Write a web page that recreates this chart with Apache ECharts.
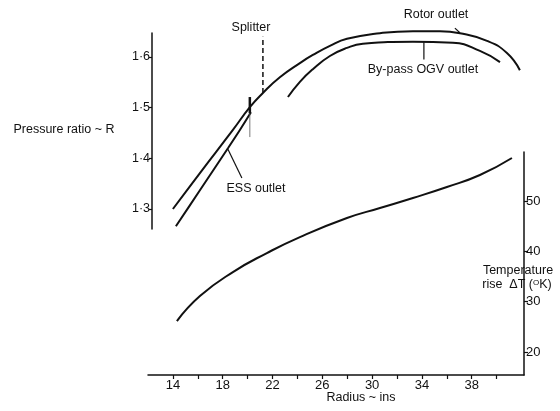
<!DOCTYPE html>
<html><head><meta charset="utf-8">
<script src="https://cdn.jsdelivr.net/npm/echarts@6/dist/echarts.min.js"></script>
<style>html,body{margin:0;padding:0;background:#fff}#c{width:560px;height:411px}</style>
</head><body><div id="c"></div>
<script>
// ---- data ----
const radiusTicks = [14,16,18,20,22,24,26,28,30,32,34,36,38,40];
const radiusLabels = [14,18,22,26,30,34,38];
const pressureTicks = [1.3,1.4,1.5,1.6];
const tempTicks = [20,30,40,50];

const rotorRadius   = [14.0,16.17,18.82,20.18,21.23,22.59,24.20,25.24,26.61,27.98,30.63,33.28,35.45,37.06,39.23,40.83,41.87];
const rotorPressure = [1.300,1.371,1.456,1.501,1.529,1.560,1.588,1.604,1.622,1.636,1.647,1.651,1.651,1.647,1.632,1.608,1.574];

const essRadius   = [14.24,16.17,18.42,19.38,20.27];
const essPressure = [1.266,1.337,1.420,1.456,1.491];

const ogvRadius   = [23.24,24.20,25.24,26.61,27.98,29.26,33.28,36.49,38.66,40.27];
const ogvPressure = [1.521,1.551,1.576,1.602,1.618,1.626,1.630,1.628,1.612,1.590];

const tempRadius = [14.32,16.17,18.82,21.55,24.20,27.98,30.63,33.28,36.01,38.66,41.23];
const tempRise   = [26.14,31.11,35.88,39.66,42.84,46.62,48.61,50.60,52.78,55.17,58.55];

// annotation leader lines (data coordinates)
const splitterDash = [[21.23,1.529],[21.23,1.640]];
const splitterBold = [[20.18,1.521],[20.18,1.489]];
const splitterThin = [[20.18,1.489],[20.18,1.442]];
const essLeader    = [[18.42,1.418],[19.54,1.361]];
const rotorLeader  = [[36.65,1.657],[37.05,1.648]];
const ogvLeader    = [[34.16,1.629],[34.16,1.595]];

const zip = (a,b) => a.map((v,i) => [v,b[i]]);
const font = 'Liberation Sans, Arial, Helvetica, sans-serif';
const ink = '#111';

const chart = echarts.init(document.getElementById('c'), null, {renderer:'canvas'});

function lineSeries(data, opts) {
  return Object.assign({
    type:'line', data, xAxisIndex:1, yAxisIndex:1, symbol:'none', clip:false,
    lineStyle:{color:ink, width:2}, silent:true, animation:false
  }, opts || {});
}

chart.setOption({
  animation:false,
  backgroundColor:'#fff',
  grid:[
    {left:148, width:376, top:152, height:223},
    {left:148, width:376, top:33, height:196}
  ],
  xAxis:[
    {type:'value', gridIndex:0, min:12, max:42.2, position:'bottom',
     axisLine:{show:true, lineStyle:{color:ink, width:1.5}},
     axisTick:{show:true, length:4, customValues:radiusTicks, lineStyle:{color:ink, width:1.2}},
     axisLabel:{customValues:radiusLabels, color:ink, fontFamily:font, fontSize:13, margin:4},
     splitLine:{show:false}},
    {type:'value', gridIndex:1, min:12, max:42.2, show:false, splitLine:{show:false}}
  ],
  yAxis:[
    {type:'value', gridIndex:0, position:'right', min:15.43, max:59.74,
     axisLine:{show:true, lineStyle:{color:ink, width:1.5}},
     axisTick:{show:true, length:4, customValues:tempTicks, lineStyle:{color:ink, width:1.2}},
     axisLabel:{customValues:tempTicks, color:ink, fontFamily:font, fontSize:13, margin:2},
     splitLine:{show:false}},
    {type:'value', gridIndex:1, position:'left', offset:-4, min:1.2605, max:1.6474,
     axisLine:{show:true, lineStyle:{color:ink, width:1.5}},
     axisTick:{show:true, length:3, customValues:pressureTicks, lineStyle:{color:ink, width:1.2}},
     axisLabel:{customValues:pressureTicks, color:ink, fontFamily:font, fontSize:12.5, margin:2,
       formatter: v => v.toFixed(1).replace('.', '·')},
     splitLine:{show:false}}
  ],
  series:[
    lineSeries(zip(rotorRadius, rotorPressure), {smooth:0.5}),
    lineSeries(zip(essRadius, essPressure), {smooth:0.3}),
    lineSeries(zip(ogvRadius, ogvPressure), {smooth:0.5}),
    lineSeries(zip(tempRadius, tempRise), {xAxisIndex:0, yAxisIndex:0, smooth:0.5}),
    lineSeries(splitterDash, {lineStyle:{color:ink, width:1.5, type:[5,3]}}),
    lineSeries(splitterBold, {lineStyle:{color:ink, width:2.5}}),
    lineSeries(splitterThin, {lineStyle:{color:'#555', width:0.8}}),
    lineSeries(essLeader, {lineStyle:{color:ink, width:1.2}}),
    lineSeries(rotorLeader, {lineStyle:{color:ink, width:1.2}}),
    lineSeries(ogvLeader, {lineStyle:{color:ink, width:1.2}})
  ],
  graphic:[
    {type:'text', x:64, y:130, style:{text:'Pressure ratio ~ R', fill:ink, font:'12.5px '+font, align:'center', verticalAlign:'middle'}},
    {type:'text', x:361, y:398, style:{text:'Radius ~ ins', fill:ink, font:'12.5px '+font, align:'center', verticalAlign:'middle'}},
    {type:'text', x:251, y:28, style:{text:'Splitter', fill:ink, font:'12.5px '+font, align:'center', verticalAlign:'middle'}},
    {type:'text', x:436, y:15, style:{text:'Rotor outlet', fill:ink, font:'12.5px '+font, align:'center', verticalAlign:'middle'}},
    {type:'text', x:423, y:70, style:{text:'By-pass OGV outlet', fill:ink, font:'12.5px '+font, align:'center', verticalAlign:'middle'}},
    {type:'text', x:256, y:189, style:{text:'ESS outlet', fill:ink, font:'12.5px '+font, align:'center', verticalAlign:'middle'}},
    {type:'text', x:518, y:271, style:{text:'Temperature', fill:ink, font:'12.5px '+font, align:'center', verticalAlign:'middle'}},
    {type:'text', x:517, y:285, style:{
      text:'{a|rise  ΔT (}{s|O}{a|K)}', align:'center', verticalAlign:'middle',
      rich:{a:{fill:ink, fontSize:12.5, fontFamily:font}, s:{fill:ink, fontSize:8, fontFamily:font, verticalAlign:'top'}}}}
  ]
});
</script></body></html>
